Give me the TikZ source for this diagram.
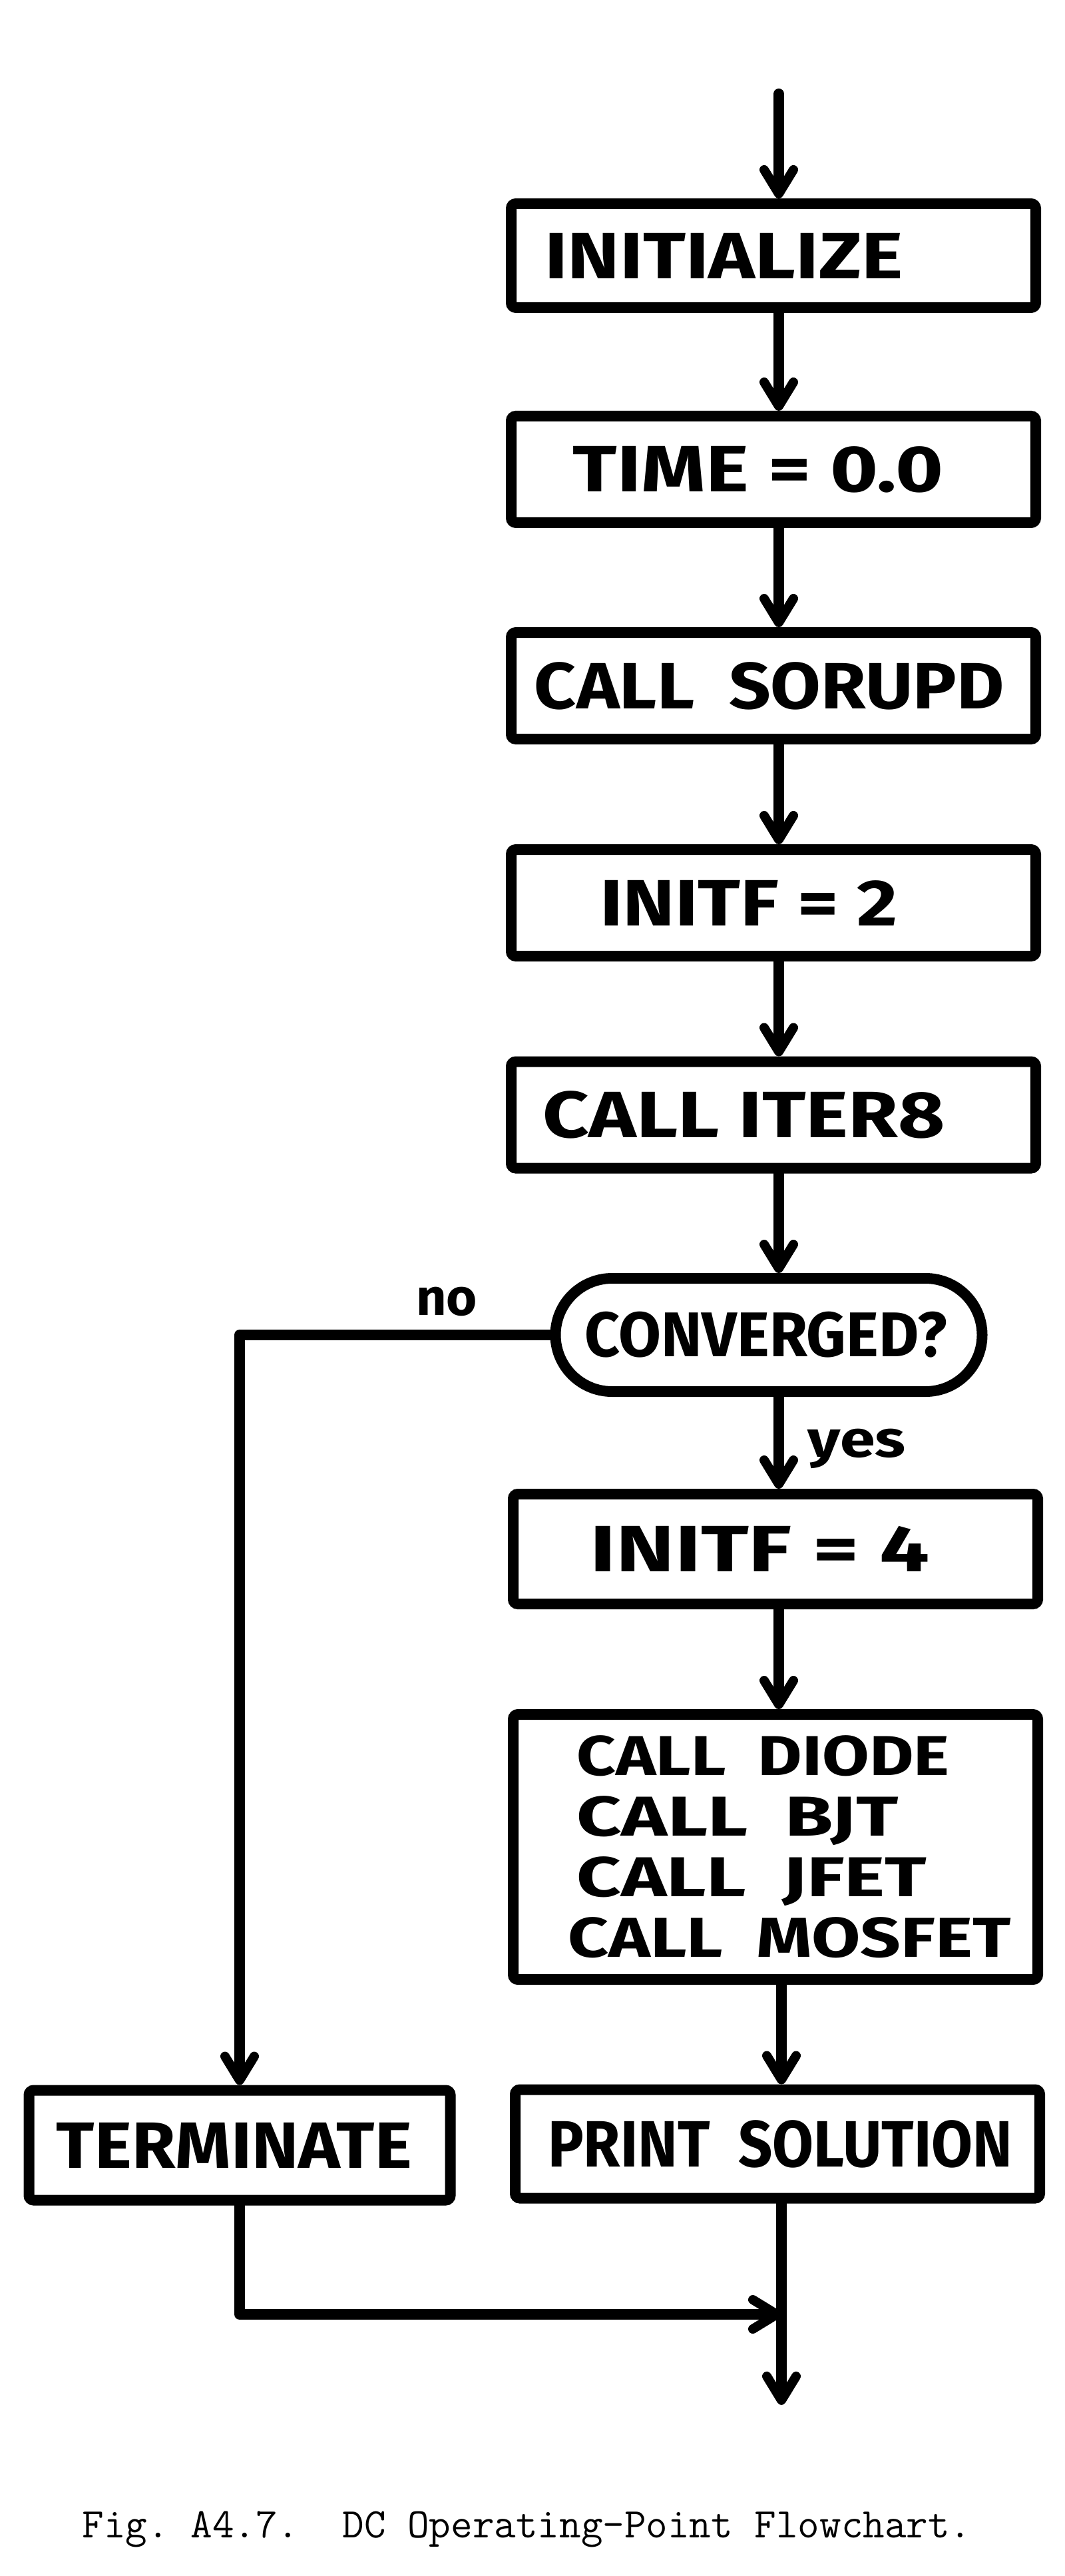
\documentclass[tikz,border=0pt]{standalone}
\usepackage{fontspec}
\usepackage{graphicx}
\setmainfont{Fira Sans}
\usetikzlibrary{arrows.meta,shapes.misc}
% text squeezed/stretched horizontally to width #2, centre shifted by half of #1
\newcommand\hand[3]{\makebox[0pt]{\hspace*{#1}\resizebox{#2}{\height}{#3}}}
\newcommand\hw[2]{\resizebox{#1}{\height}{#2}}
\begin{document}
\begin{tikzpicture}[
  flow/.style={line width=0.16cm, line join=round, line cap=round},
  arr/.style={flow, -{Straight Barb[length=0.36cm, width=0.44cm, line width=0.14cm, round]}},
  box/.style={draw, line width=0.16cm, rounded corners=2pt, minimum width=7.88cm,
    minimum height=1.60cm, inner sep=0pt, font=\bfseries\fontsize{28}{30}\selectfont},
  capsule/.style={draw, rounded rectangle, line width=0.16cm, minimum width=6.41cm,
    minimum height=1.70cm, inner sep=0pt, font=\bfseries\fontsize{27}{29}\selectfont},
  lbl/.style={font=\bfseries\fontsize{22}{24}\selectfont, inner sep=0pt},
  captext/.style={font=\ttfamily\fontsize{18}{20}\selectfont, inner sep=0pt}
]
\useasboundingbox (0,0) rectangle (16,-38.69);

\coordinate (start) at (11.70,-1.41);
\node[box, minimum height=1.56cm] (init) at (11.62,-3.84) {\hand{-1.49cm}{5.39cm}{INITIALIZE}};
\node[box] (time) at (11.62,-7.05) {\hand{-0.46cm}{5.56cm}{TIME = 0.0}};
\node[box] (sor) at (11.62,-10.30) {\hand{-0.12cm}{7.06cm}{CALL\ \ SORUPD}};
\node[box] (if2) at (11.62,-13.56) {\hand{-0.74cm}{4.48cm}{INITF = 2}};
\node[box] (it8) at (11.62,-16.745) {\hand{-0.89cm}{6.05cm}{CALL ITER8}};
\node[capsule] (conv) at (11.55,-20.05) {\hand{-0.09cm}{5.45cm}{CONVERGED?}};
\node[box, minimum height=1.65cm] (if4) at (11.65,-23.265) {\hand{-0.46cm}{5.10cm}{INITF = 4}};
\node[box, minimum height=3.98cm, align=left,
  font=\bfseries\fontsize{24}{25.9}\selectfont] (calls) at (11.65,-27.74)
  {\hspace*{0.55cm}\hw{5.60cm}{CALL\ \ DIODE}\\
   \hspace*{0.55cm}\hw{4.83cm}{CALL\ \ BJT}\\
   \hspace*{0.55cm}\hw{5.26cm}{CALL\ \ JFET}\\
   \hspace*{0.42cm}\hw{6.65cm}{CALL\ \ MOSFET}};
\node[box, minimum width=6.33cm, minimum height=1.65cm] (term) at (3.60,-32.22) {\hand{-0.16cm}{5.34cm}{TERMINATE}};
\node[box, minimum height=1.63cm] (print) at (11.68,-32.20) {\hand{0.08cm}{6.98cm}{PRINT\ \ SOLUTION}};
\coordinate (join) at (11.74,-34.76);
\coordinate (end) at (11.74,-36.12);

\node[lbl] (no) at (6.71,-19.55) {\hw{0.92cm}{no}};
\node[lbl] (yes) at (12.87,-21.76) {\hw{1.47cm}{yes}};

\draw[arr] (start) -- (start |- init.north);
\draw[arr] (start |- init.south) -- (start |- time.north);
\draw[arr] (start |- time.south) -- (start |- sor.north);
\draw[arr] (start |- sor.south) -- (start |- if2.north);
\draw[arr] (start |- if2.south) -- (start |- it8.north);
\draw[arr] (start |- it8.south) -- (start |- conv.north);
\draw[arr] (start |- conv.south) -- (start |- if4.north);
\draw[arr] (start |- if4.south) -- (start |- calls.north);
\draw[arr] (join |- calls.south) -- (join |- print.north);
\draw[arr] (conv.west) -| (term.north);
\draw[arr] (term.south) |- (join);
\draw[arr] (join |- print.south) -- (end);

\node[captext, anchor=base west] (caption) at (1.23,-38.11) {Fig.~A4.7.\ \ DC Operating-Point Flowchart.};
\end{tikzpicture}
\end{document}
